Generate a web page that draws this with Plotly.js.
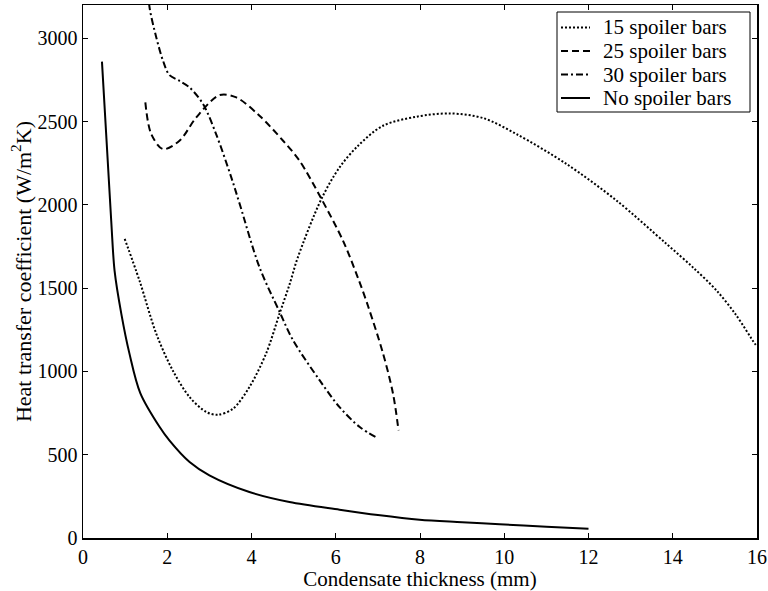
<!DOCTYPE html>
<html>
<head>
<meta charset="utf-8">
<script src="https://cdn.plot.ly/plotly-3.0.1.min.js"></script>
<style>html,body{margin:0;padding:0;background:#fff;}#chart{width:768px;height:591px;}</style>
</head>
<body>
<div id="chart"></div>
<script>
// 15 spoiler bars (dotted)
const x15 = [0.99, 1.34, 1.74, 2.13, 2.53, 2.93, 3.20, 3.56, 3.95, 4.35, 4.67, 4.90, 5.10, 5.66, 6.09, 6.53, 7.12, 7.91, 8.71, 9.50, 10.29, 11.48, 12.67, 13.85, 14.50, 15.04, 15.50, 15.95, 16.0];
const y15 = [1796, 1546, 1226, 1006, 846, 756, 740, 776, 906, 1110, 1350, 1520, 1685, 2036, 2225, 2355, 2475, 2529, 2549, 2521, 2425, 2245, 2025, 1766, 1620, 1486, 1340, 1166, 1150];
// 25 spoiler bars (dashed)
const x25 = [1.48, 1.62, 1.90, 2.29, 2.69, 3.24, 3.64, 4.19, 4.75, 5.14, 5.66, 6.17, 6.53, 6.77, 7.12, 7.36, 7.49];
const y25 = [2615, 2425, 2335, 2385, 2525, 2659, 2645, 2535, 2385, 2265, 2036, 1786, 1560, 1390, 1110, 866, 646];
// 30 spoiler bars (dash-dot)
const x30 = [1.55, 1.58, 1.74, 1.90, 2.05, 2.29, 2.53, 2.85, 3.16, 3.52, 3.72, 4.19, 4.67, 4.98, 5.62, 6.09, 6.57, 6.99];
const y30 = [3300, 3185, 3005, 2865, 2780, 2745, 2705, 2605, 2425, 2165, 2005, 1625, 1356, 1190, 946, 786, 666, 600];
// No spoiler bars (solid)
const x0 = [0.45, 0.67, 0.75, 0.91, 1.10, 1.36, 1.82, 2.05, 2.53, 3.00, 3.95, 4.90, 6.09, 7.0, 7.99, 9.0, 9.89, 11.0, 12.0];
const y0 = [2860, 1905, 1604, 1346, 1110, 870, 666, 586, 456, 376, 276, 216, 170, 138, 110, 95, 82, 68, 55];

const names = ["15 spoiler bars", "25 spoiler bars", "30 spoiler bars", "No spoiler bars"];
const dashes = ["2px,2px", "7px,4px", "7px,3px,2px,3px", "solid"];
const xTicks = [0, 2, 4, 6, 8, 10, 12, 14, 16];
const yTicks = [0, 500, 1000, 1500, 2000, 2500, 3000];

const W = 768, H = 591, M = {l: 83, r: 11, t: 5, b: 53};
const PW = W - M.l - M.r, PH = H - M.t - M.b;
const px2x = p => (p - M.l) / PW;
const py2y = p => (H - M.b - p) / PH;

const font = "Liberation Serif";
const mk = (x, y, name, dash) => ({
  x: x, y: y, name: name, type: "scatter", mode: "lines",
  line: {color: "#000", width: 2, dash: dash, shape: "spline", smoothing: 0.9},
  cliponaxis: true, showlegend: false
});

const data = [
  mk(x15, y15, names[0], dashes[0]),
  mk(x25, y25, names[1], dashes[1]),
  mk(x30, y30, names[2], dashes[2]),
  mk(x0, y0, names[3], dashes[3])
];

// hand-built legend box (MATLAB-style, compact rows)
const legLeft = 557, legRight = 750, legTop = 12, legBottom = 112;
const rowY = [27.5, 51, 74.5, 98];
const shapes = [{
  type: "rect", xref: "paper", yref: "paper",
  x0: px2x(legLeft), x1: px2x(legRight), y0: py2y(legBottom), y1: py2y(legTop),
  line: {color: "#000", width: 1}, fillcolor: "#fff", layer: "above"
}];
const annotations = [];
names.forEach((n, i) => {
  shapes.push({
    type: "line", xref: "paper", yref: "paper",
    x0: px2x(561), x1: px2x(590), y0: py2y(rowY[i]), y1: py2y(rowY[i]),
    line: {color: "#000", width: 2, dash: dashes[i]}, layer: "above"
  });
  annotations.push({
    xref: "paper", yref: "paper", x: px2x(601), y: py2y(rowY[i]),
    xanchor: "left", yanchor: "middle", showarrow: false, text: n,
    font: {family: font, size: 21, color: "#000"}
  });
});

const axisCommon = {
  showgrid: false, zeroline: false, showline: true, linecolor: "#000", linewidth: 1.5,
  mirror: "ticks", ticks: "inside", ticklen: 5, tickwidth: 1, tickcolor: "#000",
  tickfont: {family: font, size: 20, color: "#000"}
};

const layout = {
  width: W, height: H,
  margin: M,
  paper_bgcolor: "#fff", plot_bgcolor: "#fff",
  font: {family: font, size: 20, color: "#000"},
  showlegend: false,
  xaxis: Object.assign({}, axisCommon, {
    range: [0, 16], tickvals: xTicks, ticktext: xTicks.map(String),
    title: {text: "Condensate thickness (mm)", font: {family: font, size: 21, color: "#000"}, standoff: 0}
  }),
  yaxis: Object.assign({}, axisCommon, {
    range: [0, 3200], tickvals: yTicks, ticktext: yTicks.map(String),
    title: {text: "Heat transfer coefficient (W/m<sup>2</sup>K)", font: {family: font, size: 22, color: "#000"}, standoff: 0}
  }),
  shapes: shapes,
  annotations: annotations
};

Plotly.newPlot("chart", data, layout, {staticPlot: true, displayModeBar: false});
</script>
</body>
</html>
